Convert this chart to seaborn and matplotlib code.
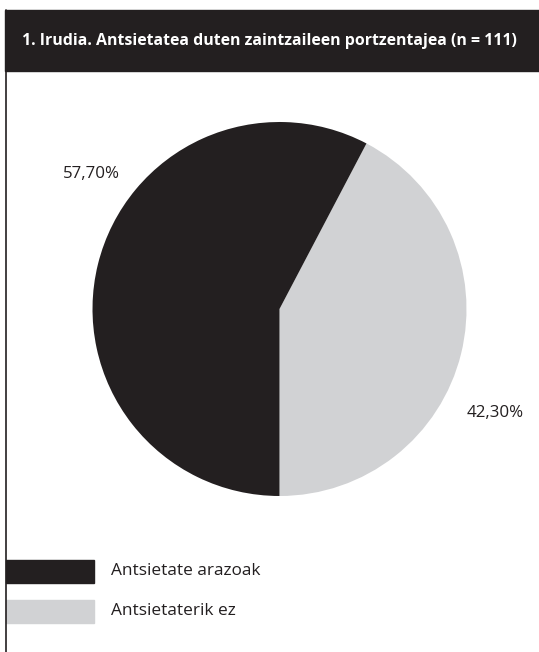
import numpy as np
import seaborn as sns
import matplotlib.pyplot as plt
from matplotlib.patches import Rectangle
from matplotlib.lines import Line2D

categories = ["Antsietate arazoak", "Antsietaterik ez"]
values = [57.7, 42.3]
labels = ["57,70%", "42,30%"]
colors = ["#231f20", "#d1d2d4"]
title = "1. Irudia. Antsietatea duten zaintzaileen portzentajea (n = 111)"

sns.set_theme(style="white")
plt.rcParams['font.family'] = ['Open Sans', 'DejaVu Sans']

W, H = 539, 652
fig = plt.figure(figsize=(W / 100, H / 100), dpi=100)

def fx(px):
    return px / W

def fy(py):
    return 1 - py / H

# title bar
fig.patches.append(Rectangle((fx(5), fy(71)), fx(534), (71 - 10) / H,
                             transform=fig.transFigure, color="#231f20", zorder=0))
fig.text(fx(269), fy(41), title, color="white", fontsize=11.4, fontweight="bold",
         ha="center", va="center")
# left border
fig.lines.append(Line2D([fx(6), fx(6)], [fy(10), 0], transform=fig.transFigure,
                        color="#231f20", lw=1.2))

# pie (light slice drawn first, counterclockwise from bottom)
ax = fig.add_axes([fx(92.5), fy(496), fx(374), 374 / H])
ax.pie(values[::-1], colors=colors[::-1], startangle=-90, counterclock=True,
       wedgeprops=dict(linewidth=0))
ax.set_xlim(-1, 1)
ax.set_ylim(-1, 1)
ax.set_aspect("equal")
ax.axis("off")

fig.text(fx(91), fy(174), labels[0], fontsize=12.2, ha="center", va="center", color="#231f20")
fig.text(fx(495), fy(413), labels[1], fontsize=12.2, ha="center", va="center", color="#231f20")

# legend
for i, (cat, c) in enumerate(zip(categories, colors)):
    y0 = 571 + 40 * i
    fig.patches.append(Rectangle((fx(6), fy(y0 + 11.5)), fx(88), 23 / H,
                                 transform=fig.transFigure, color=c))
    fig.text(fx(111), fy(y0), cat, fontsize=12.4, ha="left", va="center", color="#231f20")

fig.savefig("out.png", dpi=100)
